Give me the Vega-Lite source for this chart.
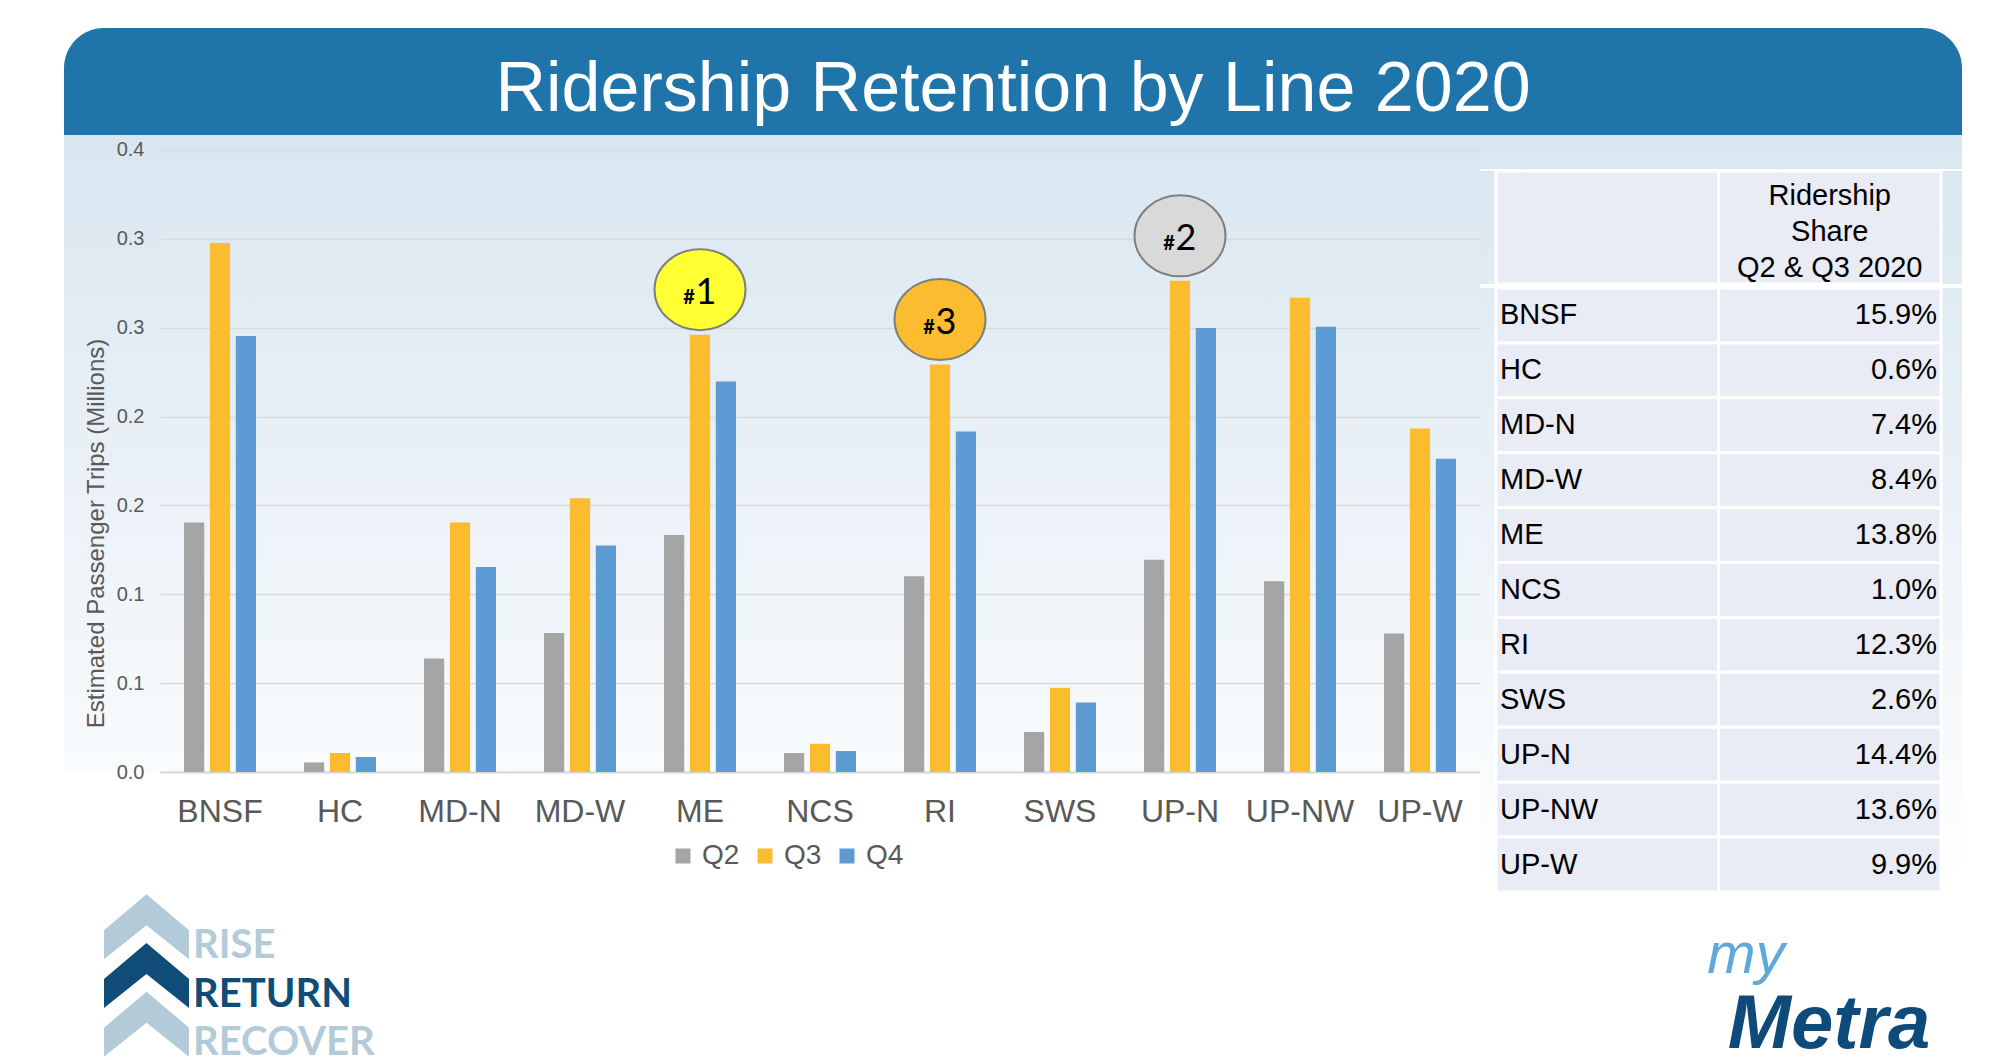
{
  "$schema": "https://vega.github.io/schema/vega-lite/v6.json",
  "background": "white",
  "padding": {"left": 64, "top": 28, "right": 0, "bottom": 0},
  "spacing": 0,
  "resolve": {
    "scale": {"color": "independent", "fill": "independent"},
    "legend": {"color": "independent", "fill": "independent"}
  },
  "datasets": {
    "trips": [
      {"line": "BNSF", "quarter": "Q2", "trips": 0.1404},
      {"line": "BNSF", "quarter": "Q3", "trips": 0.2977},
      {"line": "BNSF", "quarter": "Q4", "trips": 0.2454},
      {"line": "HC", "quarter": "Q2", "trips": 0.0054},
      {"line": "HC", "quarter": "Q3", "trips": 0.0107},
      {"line": "HC", "quarter": "Q4", "trips": 0.0085},
      {"line": "MD-N", "quarter": "Q2", "trips": 0.0639},
      {"line": "MD-N", "quarter": "Q3", "trips": 0.1404},
      {"line": "MD-N", "quarter": "Q4", "trips": 0.1153},
      {"line": "MD-W", "quarter": "Q2", "trips": 0.0782},
      {"line": "MD-W", "quarter": "Q3", "trips": 0.154},
      {"line": "MD-W", "quarter": "Q4", "trips": 0.1274},
      {"line": "ME", "quarter": "Q2", "trips": 0.1333},
      {"line": "ME", "quarter": "Q3", "trips": 0.2461, "rank": "1"},
      {"line": "ME", "quarter": "Q4", "trips": 0.2198},
      {"line": "NCS", "quarter": "Q2", "trips": 0.0107},
      {"line": "NCS", "quarter": "Q3", "trips": 0.0159},
      {"line": "NCS", "quarter": "Q4", "trips": 0.0118},
      {"line": "RI", "quarter": "Q2", "trips": 0.1101},
      {"line": "RI", "quarter": "Q3", "trips": 0.2293, "rank": "3"},
      {"line": "RI", "quarter": "Q4", "trips": 0.1916},
      {"line": "SWS", "quarter": "Q2", "trips": 0.0225},
      {"line": "SWS", "quarter": "Q3", "trips": 0.0474},
      {"line": "SWS", "quarter": "Q4", "trips": 0.0391},
      {"line": "UP-N", "quarter": "Q2", "trips": 0.1194},
      {"line": "UP-N", "quarter": "Q3", "trips": 0.2764, "rank": "2"},
      {"line": "UP-N", "quarter": "Q4", "trips": 0.2499},
      {"line": "UP-NW", "quarter": "Q2", "trips": 0.1073},
      {"line": "UP-NW", "quarter": "Q3", "trips": 0.2669},
      {"line": "UP-NW", "quarter": "Q4", "trips": 0.2506},
      {"line": "UP-W", "quarter": "Q2", "trips": 0.0779},
      {"line": "UP-W", "quarter": "Q3", "trips": 0.1933},
      {"line": "UP-W", "quarter": "Q4", "trips": 0.1762}
    ],
    "share": [
      {"line": "BNSF", "share": "15.9%"},
      {"line": "HC", "share": "0.6%"},
      {"line": "MD-N", "share": "7.4%"},
      {"line": "MD-W", "share": "8.4%"},
      {"line": "ME", "share": "13.8%"},
      {"line": "NCS", "share": "1.0%"},
      {"line": "RI", "share": "12.3%"},
      {"line": "SWS", "share": "2.6%"},
      {"line": "UP-N", "share": "14.4%"},
      {"line": "UP-NW", "share": "13.6%"},
      {"line": "UP-W", "share": "9.9%"}
    ]
  },
  "vconcat": [
    {
      "spacing": 0,
      "vconcat": [
        {
          "width": 1898,
          "height": 107,
          "data": {"values": [{"title": "Ridership Retention by Line 2020"}]},
          "layer": [
            {"mark": {"type": "rect", "color": "#1f75a9", "cornerRadiusTopLeft": 40, "cornerRadiusTopRight": 40}},
            {
              "mark": {"type": "text", "color": "white", "fontSize": 70, "font": "Liberation Sans", "baseline": "middle", "dy": 8},
              "encoding": {"text": {"field": "title", "type": "nominal"}}
            }
          ]
        },
        {
          "spacing": 0,
          "hconcat": [
            {
              "spacing": 0,
              "hconcat": [
                {
                  "width": 96,
                  "height": 637,
                  "view": {
                    "stroke": null,
                    "fill": {
                      "gradient": "linear", "x1": 0, "y1": 0, "x2": 0, "y2": 1,
                      "stops": [{"offset": 0, "color": "#d9e6f0"}, {"offset": 1, "color": "#f9fbfd"}]
                    }
                  },
                  "data": {"name": "trips"},
                  "mark": {"type": "point", "opacity": 0},
                  "encoding": {
                    "y": {
                      "field": "trips", "type": "quantitative",
                      "scale": {"domain": [0, 0.35844], "nice": false},
                      "axis": {
                        "title": "Estimated Passenger Trips (Millions)",
                        "offset": -96, "grid": false,
                        "values": [0, 0.05, 0.1, 0.15, 0.2, 0.25, 0.3, 0.35],
                        "labelExpr": "format(datum.value + 1e-9, '.1f')",
                        "labelFontSize": 20, "labelColor": "#595959", "labelPadding": 16,
                        "ticks": false, "tickSize": 0, "domain": false,
                        "titleFontSize": 24, "titleFontWeight": "normal", "titleColor": "#595959", "titlePadding": 8,
                        "titleY": 398
                      }
                    }
                  }
                },
                {
                  "width": 1320,
                  "height": 637,
                  "view": {
                    "stroke": null,
                    "fill": {
                      "gradient": "linear", "x1": 0, "y1": 0, "x2": 0, "y2": 1,
                      "stops": [{"offset": 0, "color": "#d9e6f0"}, {"offset": 1, "color": "#f9fbfd"}]
                    }
                  },
                  "data": {"name": "trips"},
                  "encoding": {
                    "x": {
                      "field": "line", "type": "nominal", "sort": null,
                      "scale": {"paddingInner": 0.4, "paddingOuter": 0.2},
                      "axis": {
                        "title": null, "labelAngle": 0, "labelFontSize": 32, "labelColor": "#595959",
                        "labelPadding": 24, "ticks": false, "tickSize": 0, "labelOverlap": false,
                        "domainColor": "#d9d9d9", "domainWidth": 2
                      }
                    },
                    "xOffset": {"field": "quarter", "type": "nominal", "scale": {"paddingInner": 0.22, "paddingOuter": 0}},
                    "y": {
                      "field": "trips", "type": "quantitative",
                      "scale": {"domain": [0, 0.35844], "nice": false},
                      "axis": {
                        "title": null, "labels": false, "ticks": false, "tickSize": 0, "domain": false,
                        "values": [0, 0.05, 0.1, 0.15, 0.2, 0.25, 0.3, 0.35],
                        "gridColor": "#d9d9d9", "gridWidth": 1.5
                      }
                    }
                  },
                  "layer": [
                    {
                      "mark": {"type": "bar"},
                      "encoding": {
                        "color": {
                          "field": "quarter", "type": "nominal",
                          "scale": {"domain": ["Q2", "Q3", "Q4"], "range": ["#a5a5a5", "#fbbc2f", "#5d9bd4"]},
                          "legend": {
                            "orient": "none", "direction": "horizontal", "legendX": 605, "legendY": 814,
                            "title": null, "labelFontSize": 28, "labelColor": "#595959",
                            "symbolType": "square", "symbolSize": 225, "symbolStrokeWidth": 0,
                            "columnPadding": 11, "labelOffset": 5, "padding": 0
                          }
                        }
                      }
                    },
                    {
                      "transform": [{"filter": "isValid(datum.rank)"}],
                      "mark": {
                        "type": "point", "shape": "M-1,0A1,0.89,0,1,1,1,0A1,0.89,0,1,1,-1,0Z",
                        "size": 8281, "filled": true, "opacity": 1,
                        "stroke": "#7f7f7f", "strokeWidth": 2, "yOffset": -45
                      },
                      "encoding": {
                        "fill": {
                          "field": "rank", "type": "nominal",
                          "scale": {"domain": ["1", "2", "3"], "range": ["#ffff33", "#d9d9d9", "#fbbc2f"]},
                          "legend": null
                        }
                      }
                    },
                    {
                      "transform": [{"filter": "isValid(datum.rank)"}],
                      "mark": {
                        "type": "text", "text": "#", "font": "Lato", "fontWeight": "bold", "fontSize": 20,
                        "dx": -11, "dy": 14, "yOffset": -45, "baseline": "alphabetic", "color": "black"
                      }
                    },
                    {
                      "transform": [{"filter": "isValid(datum.rank)"}],
                      "mark": {
                        "type": "text", "font": "Lato", "fontSize": 36,
                        "dx": 6, "dy": 14, "yOffset": -45, "baseline": "alphabetic", "color": "black"
                      },
                      "encoding": {"text": {"field": "rank", "type": "nominal"}}
                    }
                  ]
                }
              ]
            },
            {
              "spacing": 0,
              "vconcat": [
                {
                  "width": 482,
                  "height": 34,
                  "view": {
                    "stroke": null,
                    "fill": {
                      "gradient": "linear", "x1": 0, "y1": 0, "x2": 0, "y2": 1,
                      "stops": [{"offset": 0, "color": "#d9e6f0"}, {"offset": 1, "color": "#dbe7f1"}]
                    }
                  },
                  "data": {"values": []},
                  "mark": "point"
                },
                {
                  "width": 482,
                  "height": 113,
                  "view": {
                    "stroke": null,
                    "fill": {
                      "gradient": "linear", "x1": 0, "y1": 0, "x2": 0, "y2": 1,
                      "stops": [{"offset": 0, "color": "#dbe7f1"}, {"offset": 1, "color": "#e0ebf3"}]
                    }
                  },
                  "data": {"values": [{}]},
                  "encoding": {
                    "y": {"datum": "head", "type": "nominal", "axis": null, "scale": {"paddingInner": 0, "paddingOuter": 0}}
                  },
                  "layer": [
                    {
                      "mark": {"type": "rect", "color": "#e9ebf5", "stroke": "white", "strokeWidth": 3},
                      "encoding": {
                        "x": {"datum": "name", "type": "nominal", "scale": {"domain": ["name", "share"], "paddingInner": 0, "paddingOuter": 0.0831, "align": 0.432}, "axis": null}
                      }
                    },
                    {
                      "mark": {"type": "rect", "color": "#e9ebf5", "stroke": "white", "strokeWidth": 3},
                      "encoding": {"x": {"datum": "share", "type": "nominal"}}
                    },
                    {
                      "mark": {"type": "text", "fontSize": 29, "font": "Liberation Sans", "lineHeight": 36, "baseline": "middle", "dy": -32, "color": "black"},
                      "encoding": {
                        "x": {"datum": "share", "type": "nominal"},
                        "text": {"value": ["Ridership", "Share", "Q2 & Q3 2020"]}
                      }
                    }
                  ]
                },
                {
                  "width": 482,
                  "height": 604,
                  "view": {
                    "stroke": null,
                    "fill": {
                      "gradient": "linear", "x1": 0, "y1": 0, "x2": 0, "y2": 1,
                      "stops": [{"offset": 0, "color": "#e0ebf3"}, {"offset": 1, "color": "#ffffff"}]
                    }
                  },
                  "data": {"name": "share"},
                  "encoding": {
                    "y": {"field": "line", "type": "nominal", "sort": null, "axis": null, "scale": {"paddingInner": 0, "paddingOuter": 0}}
                  },
                  "layer": [
                    {
                      "mark": {"type": "rect", "color": "#e9ebf5", "stroke": "white", "strokeWidth": 3},
                      "encoding": {
                        "x": {"datum": "name", "type": "nominal", "scale": {"domain": ["name", "share"], "paddingInner": 0, "paddingOuter": 0.0831, "align": 0.432}, "axis": null}
                      }
                    },
                    {
                      "mark": {"type": "rect", "color": "#e9ebf5", "stroke": "white", "strokeWidth": 3},
                      "encoding": {"x": {"datum": "share", "type": "nominal"}}
                    },
                    {
                      "mark": {"type": "text", "align": "left", "dx": 4, "fontSize": 29, "font": "Liberation Sans", "color": "black"},
                      "encoding": {
                        "x": {"datum": "name", "type": "nominal", "bandPosition": 0},
                        "text": {"field": "line", "type": "nominal"}
                      }
                    },
                    {
                      "mark": {"type": "text", "align": "right", "dx": -4, "fontSize": 29, "font": "Liberation Sans", "color": "black"},
                      "encoding": {
                        "x": {"datum": "share", "type": "nominal", "bandPosition": 1},
                        "text": {"field": "share", "type": "nominal"}
                      }
                    }
                  ]
                }
              ]
            }
          ]
        }
      ]
    },
    {
      "spacing": 1332,
      "hconcat": [
        {
          "width": 258,
          "height": 137,
          "data": {
            "values": [
              {"word": "RISE", "tone": "light"},
              {"word": "RETURN", "tone": "dark"},
              {"word": "RECOVER", "tone": "light"}
            ]
          },
          "encoding": {
            "y": {"field": "word", "type": "nominal", "sort": null, "axis": null, "scale": {"type": "point", "padding": 0.405}},
            "color": {"field": "tone", "type": "nominal", "scale": {"domain": ["light", "dark"], "range": ["#b3cbd9", "#0f4c77"]}, "legend": null}
          },
          "layer": [
            {
              "mark": {
                "type": "point",
                "shape": "M0,-0.765L1,0.082L1,0.765L0,-0.035L-1,0.765L-1,0.082Z",
                "size": 7225, "filled": true, "opacity": 1, "yOffset": -19
              },
              "encoding": {
                "x": {"datum": "icon", "type": "nominal", "scale": {"type": "band", "domain": ["icon", "word"], "paddingInner": 0, "paddingOuter": 0.387}, "axis": null}
              }
            },
            {
              "mark": {"type": "text", "align": "left", "baseline": "middle", "font": "Lato", "fontWeight": "bold", "fontSize": 40},
              "encoding": {
                "x": {"datum": "word", "type": "nominal", "bandPosition": 0},
                "text": {"field": "word", "type": "nominal"}
              }
            }
          ]
        },
        {
          "width": 200,
          "height": 137,
          "data": {"values": [{}]},
          "layer": [
            {
              "mark": {"type": "text", "text": "my", "font": "Liberation Sans", "fontStyle": "italic", "fontSize": 58, "color": "#5ea8da", "baseline": "alphabetic", "dx": -83, "dy": -22}
            },
            {
              "mark": {"type": "text", "text": "Metra", "font": "Liberation Sans", "fontStyle": "italic", "fontWeight": "bold", "fontSize": 76, "color": "#0e4a7a", "baseline": "alphabetic", "dy": 53}
            }
          ]
        }
      ]
    }
  ],
  "config": {
    "view": {"stroke": null},
    "font": "Liberation Sans"
  }
}
